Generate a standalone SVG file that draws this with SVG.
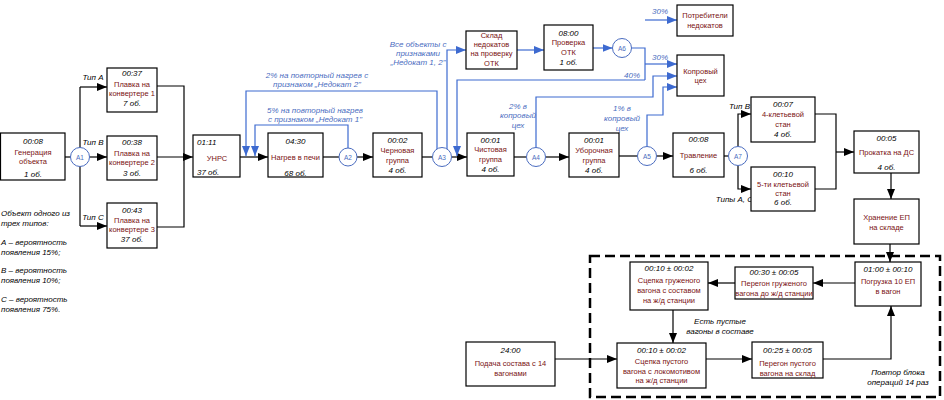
<svg xmlns="http://www.w3.org/2000/svg" width="944" height="400" viewBox="0 0 944 400">
<defs>
<style>
.box{fill:#fff;stroke:#000;stroke-width:1.2}
text{font-family:"Liberation Sans",Arial,sans-serif;font-size:8px;text-anchor:middle}
.tm{font-style:italic;fill:#000}
.tn{fill:#7a1212;font-size:7.5px}
.bl{fill:#4a6cc0;font-style:italic}
.lt{text-anchor:start}
.rt{text-anchor:end}
.ln{stroke:#000;fill:none;stroke-width:1.2}
.lb{stroke:#3d6ad0;fill:none;stroke-width:1.2}
.c{fill:#fff;stroke:#4a6cc0;stroke-width:1}
.cl{fill:#4a6cc0;font-size:6.5px}
.dash{fill:none;stroke:#000;stroke-width:2.5;stroke-dasharray:10,5}
</style>
<marker id="ak" markerUnits="userSpaceOnUse" markerWidth="10" markerHeight="8" refX="10" refY="4" orient="auto"><path d="M0,0 L10,4 L0,8 z" fill="#000"/></marker>
<marker id="ab" markerUnits="userSpaceOnUse" markerWidth="10" markerHeight="8" refX="10" refY="4" orient="auto"><path d="M0,0 L10,4 L0,8 z" fill="#3d6ad0"/></marker>
</defs>
<rect width="944" height="400" fill="#fff"/>

<g id="frame"><rect class="dash" x="590" y="256" width="350" height="141"/></g>

<g id="connectors">
<path class="ln" d="M65,157 H71"/>
<path class="ln" d="M80,87 V226"/>
<path class="ln" d="M80,87 H107" marker-end="url(#ak)"/>
<path class="ln" d="M89.5,157 H107" marker-end="url(#ak)"/>
<path class="ln" d="M80,226 H107" marker-end="url(#ak)"/>
<path class="ln" d="M157,86 H184 V227 H157"/>
<path class="ln" d="M157,157 H193" marker-end="url(#ak)"/>
<path class="ln" d="M240,157 H268" marker-end="url(#ak)"/>
<path class="ln" d="M323,157 H339"/>
<path class="ln" d="M357,157 H373" marker-end="url(#ak)"/>
<path class="ln" d="M422,157 H432.5"/>
<path class="ln" d="M451.5,157 H467" marker-end="url(#ak)"/>
<path class="ln" d="M514,157 H526.5"/>
<path class="ln" d="M545.5,157 H569" marker-end="url(#ak)"/>
<path class="ln" d="M619,156 H637.5"/>
<path class="ln" d="M656.5,156 H673" marker-end="url(#ak)"/>
<path class="ln" d="M724,156 H728.5"/>
<path class="ln" d="M738,146.5 V114 H751" marker-end="url(#ak)"/>
<path class="ln" d="M738,165.5 V189 H751" marker-end="url(#ak)"/>
<path class="ln" d="M815,114 H836 V189 H815"/>
<path class="ln" d="M836,152 H854" marker-end="url(#ak)"/>
<path class="ln" d="M891,173 V199" marker-end="url(#ak)"/>
<path class="ln" d="M890,244 V262" marker-end="url(#ak)"/>
<path class="ln" d="M855,283 H813" marker-end="url(#ak)"/>
<path class="ln" d="M735,283 H708" marker-end="url(#ak)"/>
<path class="ln" d="M673,310 V343" marker-end="url(#ak)"/>
<path class="ln" d="M555,359 H617" marker-end="url(#ak)"/>
<path class="ln" d="M706,359 H752" marker-end="url(#ak)"/>
<path class="ln" d="M823,359 H891 V306" marker-end="url(#ak)"/>

<path class="lb" d="M437,149 V91 H246 V156" marker-end="url(#ab)"/>
<path class="lb" d="M348,148 V125 H255 V156" marker-end="url(#ab)"/>
<path class="lb" d="M447,149 V50 H466" marker-end="url(#ab)"/>
<path class="lb" d="M517,50 H544" marker-end="url(#ab)"/>
<path class="lb" d="M593,48 H612.5" marker-end="url(#ab)"/>
<path class="lb" d="M631.5,48 H645 V80"/>
<path class="lb" d="M645,20 H677" marker-end="url(#ab)"/>
<path class="lb" d="M645,64 H677" marker-end="url(#ab)"/>
<path class="lb" d="M645,80 H457 V156" marker-end="url(#ab)"/>
<path class="lb" d="M536,147.5 V97 H653 V76 H677" marker-end="url(#ab)"/>
<path class="lb" d="M647,146.5 V115 H663 V87 H677" marker-end="url(#ab)"/>
</g>

<g id="labels">
<text class="tm" x="93" y="80">Тип А</text>
<text class="tm" x="93" y="145">Тип В</text>
<text class="tm" x="93" y="220">Тип С</text>
<text class="tm rt" x="750" y="109">Тип В</text>
<text class="tm rt" x="753" y="202">Типы А, С</text>
<text class="bl" x="317" y="78">2% на повторный нагрев с</text>
<text class="bl" x="317" y="87">признаком „Недокат 2"</text>
<text class="bl" x="315" y="113">5% на повторный нагрев</text>
<text class="bl" x="315" y="122">с признаком „Недокат 1"</text>
<text class="bl" x="418" y="47">Все объекты с</text>
<text class="bl" x="418" y="56">признаками</text>
<text class="bl" x="418" y="65">„Недокат 1, 2"</text>
<text class="bl" x="518" y="109">2% в</text>
<text class="bl" x="518" y="118">копровый</text>
<text class="bl" x="518" y="128">цех</text>
<text class="bl" x="622" y="111">1% в</text>
<text class="bl" x="622" y="121">копровый</text>
<text class="bl" x="622" y="131">цех</text>
<text class="bl" x="660" y="14">30%</text>
<text class="bl" x="660" y="60">30%</text>
<text class="bl" x="632" y="78">40%</text>
<text class="tm" x="720" y="324">Есть пустые</text>
<text class="tm" x="720" y="334">вагоны в составе</text>
<text class="tm" x="898" y="375">Повтор блока</text>
<text class="tm" x="898" y="385">операций 14 раз</text>
<g id="note">
<text class="tm lt" x="1" y="216">Объект одного из</text>
<text class="tm lt" x="1" y="226">трех типов:</text>
<text class="tm lt" x="1" y="245">А – вероятность</text>
<text class="tm lt" x="1" y="255">появления 15%;</text>
<text class="tm lt" x="1" y="273">В – вероятность</text>
<text class="tm lt" x="1" y="283">появления 10%;</text>
<text class="tm lt" x="1" y="302">С – вероятность</text>
<text class="tm lt" x="1" y="312">появления 75%.</text>
</g>
</g>

<g id="A1"><circle class="c" cx="80" cy="157" r="9.5"/><text class="cl" x="80" y="159.5">A1</text></g>
<g id="A2"><circle class="c" cx="348" cy="157" r="9"/><text class="cl" x="348" y="159.5">A2</text></g>
<g id="A3"><circle class="c" cx="442" cy="157" r="9.5"/><text class="cl" x="442" y="159.5">A3</text></g>
<g id="A4"><circle class="c" cx="536" cy="157" r="9.5"/><text class="cl" x="536" y="159.5">A4</text></g>
<g id="A5"><circle class="c" cx="647" cy="156" r="9.5"/><text class="cl" x="647" y="158.5">A5</text></g>
<g id="A6"><circle class="c" cx="622" cy="48" r="9.5"/><text class="cl" x="622" y="50.5">A6</text></g>
<g id="A7"><circle class="c" cx="738" cy="156" r="9.5"/><text class="cl" x="738" y="158.5">A7</text></g>

<g id="gen"><rect class="box" x="0.5" y="133" width="64.5" height="47"/>
<text class="tm" x="33" y="144">00:08</text><text class="tn" x="33" y="155">Генерация</text><text class="tn" x="33" y="164">объекта</text><text class="tm" x="33" y="177">1 об.</text></g>

<g id="conv1"><rect class="box" x="107" y="68" width="50" height="44"/>
<text class="tm" x="132" y="76">00:37</text><text class="tn" x="132" y="87">Плавка на</text><text class="tn" x="132" y="96">конвертере 1</text><text class="tm" x="132" y="106">7 об.</text></g>
<g id="conv2"><rect class="box" x="107" y="136" width="50" height="44"/>
<text class="tm" x="132" y="145">00:38</text><text class="tn" x="132" y="156">Плавка на</text><text class="tn" x="132" y="165">конвертере 2</text><text class="tm" x="132" y="176">3 об.</text></g>
<g id="conv3"><rect class="box" x="107" y="203" width="50" height="45"/>
<text class="tm" x="132" y="213">00:43</text><text class="tn" x="132" y="223">Плавка на</text><text class="tn" x="132" y="232">конвертере 3</text><text class="tm" x="132" y="242">37 об.</text></g>

<g id="unrs"><rect class="box" x="193" y="135" width="47" height="42"/>
<text class="tm lt" x="197" y="145">01:11</text><text class="tn" x="217" y="161">УНРС</text><text class="tm lt" x="197" y="175">37 об.</text></g>
<g id="heat"><rect class="box" x="268" y="133" width="55" height="44"/>
<text class="tm" x="295.5" y="144">04:30</text><text class="tn" x="295.5" y="160">Нагрев в печи</text><text class="tm" x="295.5" y="176">68 об.</text></g>
<g id="rough"><rect class="box" x="373" y="133" width="49" height="44"/>
<text class="tm" x="397.5" y="143">00:02</text><text class="tn" x="397.5" y="153">Черновая</text><text class="tn" x="397.5" y="163">группа</text><text class="tm" x="397.5" y="173">4 об.</text></g>
<g id="finish"><rect class="box" x="467" y="133" width="47" height="43"/>
<text class="tm" x="490.5" y="143">00:01</text><text class="tn" x="490.5" y="152">Чистовая</text><text class="tn" x="490.5" y="162">группа</text><text class="tm" x="490.5" y="172">4 об.</text></g>
<g id="clean"><rect class="box" x="569" y="133" width="50" height="44"/>
<text class="tm" x="594" y="143">00:01</text><text class="tn" x="594" y="153">Уборочная</text><text class="tn" x="594" y="163">группа</text><text class="tm" x="594" y="173">4 об.</text></g>
<g id="pickle"><rect class="box" x="673" y="133" width="51" height="44"/>
<text class="tm" x="698.5" y="142">00:08</text><text class="tn" x="698.5" y="158">Травление</text><text class="tm" x="698.5" y="173">6 об.</text></g>
<g id="mill4"><rect class="box" x="751" y="97" width="64" height="45"/>
<text class="tm" x="783" y="107">00:07</text><text class="tn" x="783" y="117">4-клетьевой</text><text class="tn" x="783" y="127">стан</text><text class="tm" x="783" y="137">4 об.</text></g>
<g id="mill5"><rect class="box" x="751" y="167" width="64" height="44"/>
<text class="tm" x="783" y="177">00:10</text><text class="tn" x="783" y="187">5-ти клетьевой</text><text class="tn" x="783" y="196">стан</text><text class="tm" x="783" y="205">6 об.</text></g>
<g id="ds"><rect class="box" x="854" y="131" width="65" height="42"/>
<text class="tm" x="886.5" y="141">00:05</text><text class="tn" x="886.5" y="155">Прокатка на ДС</text><text class="tm" x="886.5" y="170">4 об.</text></g>
<g id="store"><rect class="box" x="854" y="199" width="65" height="45"/>
<text class="tn" x="886.5" y="220">Хранение ЕП</text><text class="tn" x="886.5" y="230">на складе</text></g>

<g id="sklad"><rect class="box" x="466" y="31" width="51" height="38"/>
<text class="tn" x="491.5" y="38">Склад</text><text class="tn" x="491.5" y="47">недокатов</text><text class="tn" x="491.5" y="56">на проверку</text><text class="tn" x="491.5" y="66">ОТК</text></g>
<g id="otk"><rect class="box" x="544" y="25" width="49" height="45"/>
<text class="tm" x="568.5" y="36">08:00</text><text class="tn" x="568.5" y="45">Проверка</text><text class="tn" x="568.5" y="55">ОТК</text><text class="tm" x="568.5" y="65">1 об.</text></g>
<g id="consumers"><rect class="box" x="677" y="5" width="56" height="31"/>
<text class="tn" x="705" y="18">Потребители</text><text class="tn" x="705" y="28">недокатов</text></g>
<g id="kopr"><rect class="box" x="677" y="55" width="47" height="41"/>
<text class="tn" x="700.5" y="74">Копровый</text><text class="tn" x="700.5" y="83">цех</text></g>

<g id="load"><rect class="box" x="855" y="262" width="66" height="44"/>
<text class="tm" x="888" y="272">01:00 ± 00:10</text><text class="tn" x="888" y="284">Погрузка 10 ЕП</text><text class="tn" x="888" y="294">в вагон</text></g>
<g id="haulFull"><rect class="box" x="735" y="267" width="78" height="32"/>
<text class="tm" x="774" y="275">00:30 ± 00:05</text><text class="tn" x="774" y="286">Перегон груженого</text><text class="tn" x="774" y="296">вагона до ж/д станции</text></g>
<g id="coupleFull"><rect class="box" x="630" y="262" width="78" height="48"/>
<text class="tm" x="669" y="271">00:10 ± 00:02</text><text class="tn" x="669" y="283">Сцепка груженого</text><text class="tn" x="669" y="293">вагона с составом</text><text class="tn" x="669" y="303">на ж/д станции</text></g>
<g id="coupleEmpty"><rect class="box" x="617" y="343" width="89" height="45"/>
<text class="tm" x="661.5" y="353">00:10 ± 00:02</text><text class="tn" x="661.5" y="364">Сцепка пустого</text><text class="tn" x="661.5" y="374">вагона с локомотивом</text><text class="tn" x="661.5" y="383">на ж/д станции</text></g>
<g id="haulEmpty"><rect class="box" x="752" y="342" width="71" height="36"/>
<text class="tm" x="787.5" y="353">00:25 ± 00:05</text><text class="tn" x="787.5" y="366">Перегон пустого</text><text class="tn" x="787.5" y="376">вагона на склад</text></g>
<g id="train"><rect class="box" x="466" y="342" width="89" height="44"/>
<text class="tm" x="510.5" y="353">24:00</text><text class="tn" x="510.5" y="366">Подача состава с 14</text><text class="tn" x="510.5" y="376">вагонами</text></g>
</svg>
